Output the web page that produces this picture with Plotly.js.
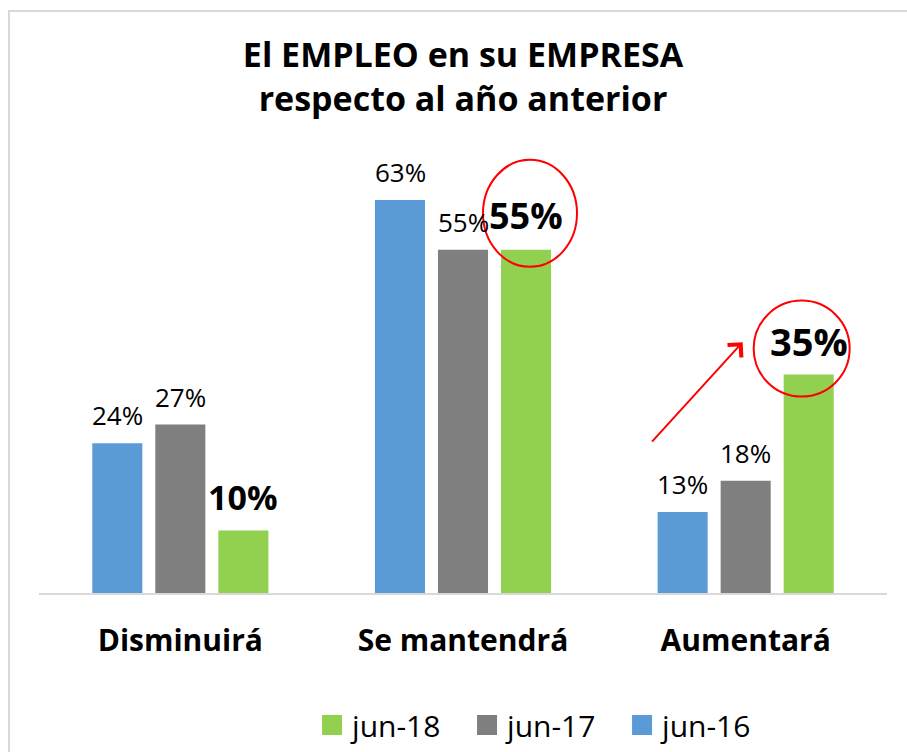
<!DOCTYPE html>
<html>
<head>
<meta charset="utf-8">
<script src="https://cdn.plot.ly/plotly-3.0.1.min.js"></script>
<style>
  html, body { margin: 0; padding: 0; background: #fff; }
  #wrap { position: relative; width: 907px; height: 752px; overflow: hidden; }
  #chart { width: 907px; height: 752px; }
  #frame { position: absolute; left: 8px; top: 10px; width: 1000px; height: 1000px;
           border-left: 2px solid #d9d9d9; border-top: 2px solid #d9d9d9; pointer-events: none; }
</style>
</head>
<body>
<div id="wrap"><div id="chart"></div><div id="frame"></div></div>
<script>
// ---- data ----
const categories = ['Disminuirá', 'Se mantendrá', 'Aumentará'];
const seriesNames = ['jun-16', 'jun-17', 'jun-18'];
const jun16 = [24, 63, 13];
const jun17 = [27, 55, 18];
const jun18 = [10, 55, 35];

// ---- styles ----
const colors = ['#5B9BD5', '#7F7F7F', '#92D050'];
const FONT = '"Open Sans", "DejaVu Sans", sans-serif';
const seriesValues = [jun16, jun17, jun18];
const groupOffsetPx = [-63, 0, 63];

const barTraces = seriesValues.map((vals, i) => ({
  type: 'bar',
  name: seriesNames[i],
  legendgroup: seriesNames[i],
  showlegend: false,
  x: categories,
  y: vals,
  marker: { color: colors[i] },
  hoverinfo: 'skip'
}));

// legend-only entries (larger square swatches)
const legendTraces = seriesNames.map((n, i) => ({
  type: 'scatter', mode: 'markers', name: n, legendgroup: n,
  x: [null], y: [null], showlegend: true, hoverinfo: 'skip',
  marker: { symbol: 'square', size: 16, color: colors[i], line: { color: colors[i], width: 4 } }
}));

// value labels
const annotations = [];
seriesValues.forEach((vals, i) => {
  vals.forEach((v, j) => {
    const bold = i === 2;
    annotations.push({
      xref: 'x', yref: 'y', x: categories[j], y: v,
      xshift: groupOffsetPx[i], yshift: bold ? 34 : 28,
      text: bold ? '<b>' + v + '%</b>' : v + '%',
      showarrow: false, xanchor: 'center', yanchor: 'middle',
      font: { family: FONT, size: bold ? (j === 2 ? 38 : (j === 1 ? 36 : 34)) : 26, color: '#000' }
    });
  });
});

// red arrow (decoration)
annotations.push({
  xref: 'x', yref: 'y', x: categories[2], y: 40.2, xshift: -3,
  ax: -92, ay: 101, axref: 'pixel', ayref: 'pixel',
  text: '', showarrow: true, arrowhead: 4, arrowsize: 1.8, arrowwidth: 2, arrowcolor: '#FF0000'
});

// red circles (decoration) anchored to jun-18 bars
const shapes = [
  { type: 'circle', xref: 'x', yref: 'y', xsizemode: 'pixel', ysizemode: 'pixel',
    xanchor: 1, yanchor: jun18[1], x0: 20, x1: 114, y0: -17, y1: 90,
    line: { color: '#FF0000', width: 2 }, fillcolor: 'rgba(0,0,0,0)' },
  { type: 'circle', xref: 'x', yref: 'y', xsizemode: 'pixel', ysizemode: 'pixel',
    xanchor: 2, yanchor: jun18[2], x0: 8, x1: 104, y0: -22, y1: 74,
    line: { color: '#FF0000', width: 2 }, fillcolor: 'rgba(0,0,0,0)' }
];

const layout = {
  width: 907, height: 752,
  margin: { l: 39, r: 20, t: 150, b: 159 },
  paper_bgcolor: '#fff', plot_bgcolor: '#fff',
  barmode: 'group', bargap: 0.331, bargroupgap: 0.206,
  title: {
    text: '<b>El EMPLEO en su EMPRESA<br>respecto al año anterior</b>',
    font: { family: FONT, size: 34, color: '#000' },
    x: 0.5, xref: 'paper', xanchor: 'center',
    y: 0.911, yref: 'container', yanchor: 'top'
  },
  xaxis: {
    type: 'category', range: [-0.5, 2.5], fixedrange: true, automargin: false,
    showline: true, linecolor: '#d9d9d9', linewidth: 2,
    ticks: 'outside', ticklen: 20, tickcolor: 'rgba(0,0,0,0)',
    tickfont: { family: FONT, size: 30, color: '#000', weight: 'bold' },
    showgrid: false, zeroline: false
  },
  yaxis: {
    range: [0, 71], visible: false, showgrid: false, zeroline: false, fixedrange: true
  },
  showlegend: true,
  legend: {
    orientation: 'h', traceorder: 'reversed',
    x: 0.322, xref: 'paper', xanchor: 'left',
    y: 0.036, yref: 'container', yanchor: 'middle',
    entrywidth: 110, entrywidthmode: 'pixels',
    font: { family: FONT, size: 30, color: '#000' },
    itemclick: false, itemdoubleclick: false
  },
  annotations: annotations,
  shapes: shapes
};

Plotly.newPlot('chart', barTraces.concat(legendTraces), layout, { displayModeBar: false, staticPlot: true });
</script>
</body>
</html>
